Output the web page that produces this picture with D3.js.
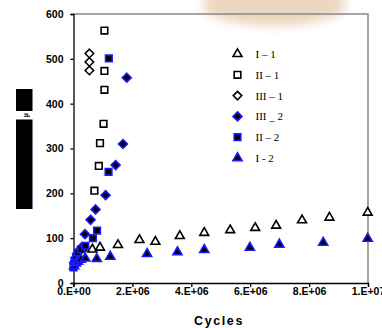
<!DOCTYPE html>
<html>
<head>
<meta charset="utf-8">
<script src="https://cdn.jsdelivr.net/npm/d3@7"></script>
<style>
  body { margin: 0; background: #fff; }
  svg { display: block; }
  .tick text { font-family: "Liberation Sans", Arial, sans-serif; font-weight: bold; font-size: 10.5px; fill: #000; }
</style>
</head>
<body>
<div id="chart"></div>
<script>
// Cycles (x) and strain values (y) per series
const xI1 = [300000, 640000, 900000, 1510000, 2240000, 2780000, 3610000, 4440000, 5320000, 6170000, 6880000, 7760000, 8690000, 9990000];
const yI1 = [77, 75, 79, 85, 96, 92, 105, 112, 118, 123, 128, 140, 146, 157];

const xII1 = [710000, 860000, 900000, 1020000, 1050000, 1050000, 1050000];
const yII1 = [206, 261, 312, 355, 431, 473, 563];

const xIII1 = [540000, 540000, 540000];
const yIII1 = [474, 493, 512];

const xIII2 = [20000, 60000, 120000, 200000, 280000, 390000, 580000, 750000, 1090000, 1430000, 1680000, 1810000];
const yIII2 = [45, 55, 65, 72, 80, 109, 141, 164, 196, 263, 310, 458];

const xII2 = [0, 20000, 50000, 90000, 150000, 250000, 400000, 660000, 800000, 1190000, 1200000];
const yII2 = [35, 42, 50, 58, 68, 75, 83, 100, 117, 248, 501];

const xI2 = [20000, 80000, 150000, 250000, 400000, 790000, 1250000, 2500000, 3530000, 4440000, 5990000, 6990000, 8480000, 9990000];
const yI2 = [38, 44, 48, 52, 55, 54, 59, 65, 69, 74, 79, 86, 90, 99];

const xTicks = [0, 2e6, 4e6, 6e6, 8e6, 1e7];
const xTickLabels = ["0.E+00", "2.E+06", "4.E+06", "6.E+06", "8.E+06", "1.E+07"];
const yTicks = [0, 100, 200, 300, 400, 500, 600];

const width = 382, height = 328;
const plot = { left: 73.5, right: 368, top: 14, bottom: 283 };

const svg = d3.select("#chart").append("svg")
  .attr("width", width)
  .attr("height", height);

// faint stain at the top
const defs = svg.append("defs");
defs.append("filter").attr("id", "blur")
  .attr("x", "-50%").attr("y", "-50%").attr("width", "200%").attr("height", "200%")
  .append("feGaussianBlur").attr("stdDeviation", 5);
svg.append("ellipse")
  .attr("cx", 274).attr("cy", 5).attr("rx", 72).attr("ry", 21)
  .attr("fill", "#e6c9aa").attr("opacity", 0.75)
  .attr("filter", "url(#blur)");

const x = d3.scaleLinear().domain([0, 1e7]).range([plot.left, plot.right]);
const y = d3.scaleLinear().domain([0, 600]).range([plot.bottom, plot.top]);

// grey frame on top and right
svg.append("path")
  .attr("d", `M${plot.left},${plot.top}H${plot.right}V${plot.bottom}`)
  .attr("fill", "none")
  .attr("stroke", "#888")
  .attr("stroke-width", 1.5);

// Axes
const xAxis = d3.axisBottom(x)
  .tickValues(xTicks)
  .tickFormat((d, i) => xTickLabels[i])
  .tickSizeOuter(0)
  .tickSize(4)
  .tickPadding(1);
const gx = svg.append("g").attr("transform", `translate(0,${plot.bottom})`).call(xAxis);
gx.selectAll("line, path").attr("stroke", "#000").attr("stroke-width", 1.3);

const yAxis = d3.axisLeft(y)
  .tickValues(yTicks)
  .tickSizeOuter(0)
  .tickSize(3)
  .tickPadding(7);
const gy = svg.append("g").attr("transform", `translate(${plot.left},0)`).call(yAxis);
gy.selectAll("line, path").attr("stroke", "#000").attr("stroke-width", 1.3);

svg.append("text")
  .attr("x", 219).attr("y", 325)
  .attr("text-anchor", "middle")
  .attr("font-family", "Liberation Sans, Arial, sans-serif")
  .attr("font-weight", "bold")
  .attr("font-size", 12.5)
  .attr("letter-spacing", 1.6)
  .text("Cycles");

// y title, blotted out in the original
svg.append("rect").attr("x", 16).attr("y", 89).attr("width", 16.5).attr("height", 22).attr("fill", "#000");
svg.append("rect").attr("x", 16).attr("y", 119.5).attr("width", 16.5).attr("height", 89.5).attr("fill", "#000");
svg.append("text")
  .attr("transform", "translate(28,115) rotate(-90)")
  .attr("text-anchor", "middle")
  .attr("font-family", "Liberation Sans, Arial, sans-serif")
  .attr("font-size", 7)
  .attr("font-weight", "bold")
  .text("μ");

// marker shapes
const diamond = {
  draw(ctx, size) {
    const r = Math.sqrt(size / 2);
    ctx.moveTo(0, -r); ctx.lineTo(r, 0); ctx.lineTo(0, r); ctx.lineTo(-r, 0); ctx.closePath();
  }
};

const series = [
  { name: "I \u2013 1", xs: xI1, ys: yI1, type: d3.symbolTriangle, size: 34, fill: "#fff", stroke: "#000" },
  { name: "II \u2013 1", xs: xII1, ys: yII1, type: d3.symbolSquare, size: 44, fill: "#fff", stroke: "#000" },
  { name: "III \u2013 1", xs: xIII1, ys: yIII1, type: diamond, size: 36, fill: "#fff", stroke: "#000" },
  { name: "III _ 2", xs: xIII2, ys: yIII2, type: diamond, size: 40, fill: "#000", stroke: "#1a1aff" },
  { name: "II \u2013 2", xs: xII2, ys: yII2, type: d3.symbolSquare, size: 44, fill: "#000", stroke: "#1a1aff" },
  { name: "I - 2", xs: xI2, ys: yI2, type: d3.symbolTriangle, size: 36, fill: "#000", stroke: "#1a1aff" }
];

series.forEach((s) => {
  const pts = s.xs.map((v, i) => ({ cx: v, cy: s.ys[i] }));
  svg.append("g")
    .selectAll("path")
    .data(pts)
    .enter()
    .append("path")
    .attr("transform", (d) => `translate(${x(d.cx)},${y(d.cy)})`)
    .attr("d", d3.symbol().type(s.type).size(s.size))
    .attr("fill", s.fill)
    .attr("stroke", s.stroke)
    .attr("stroke-width", 1.6);
});

// Legend
const legend = svg.append("g").attr("transform", "translate(237.5,54)");
series.forEach((s, i) => {
  const row = legend.append("g").attr("transform", `translate(0,${i * 20.8})`);
  row.append("path")
    .attr("d", d3.symbol().type(s.type).size(s.size))
    .attr("fill", s.fill)
    .attr("stroke", s.stroke)
    .attr("stroke-width", 1.6);
  row.append("text")
    .attr("x", 18).attr("y", 4)
    .attr("font-family", "Liberation Serif, Times New Roman, serif")
    .attr("font-size", 11)
    .text(s.name);
});
</script>
</body>
</html>
